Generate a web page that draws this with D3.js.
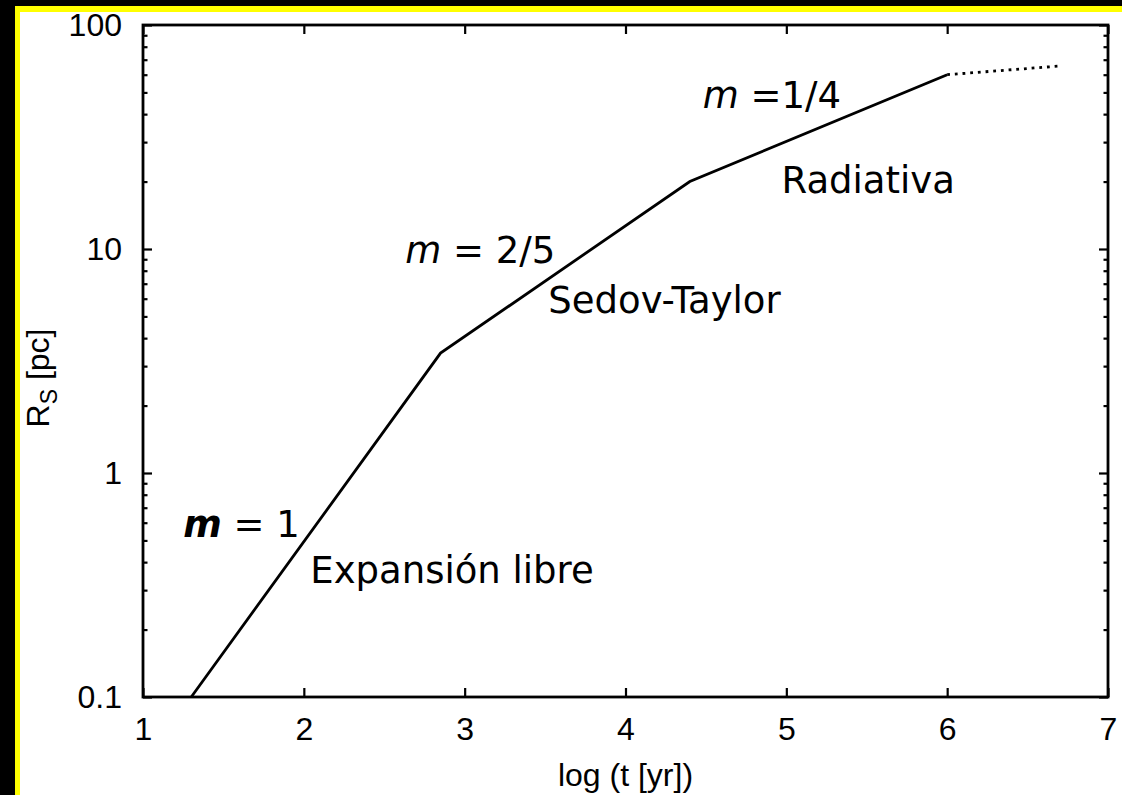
<!DOCTYPE html>
<html>
<head>
<meta charset="utf-8">
<script src="https://cdn.jsdelivr.net/npm/d3@7"></script>
<style>
  html, body { margin: 0; padding: 0; background: #000; }
  svg { display: block; }
  .tick text { font-family: "Liberation Sans", Arial, sans-serif; font-size: 32px; fill: #000; }
</style>
</head>
<body>
<svg></svg>
<script>
const WIDTH = 1122;
const HEIGHT = 795;

// solid curve: log(t) vs R_S
const logT = [1.3, 2.85, 4.4, 6.0];
const radius = [0.1, 3.43, 20, 60];
// dotted continuation
const logTDotted = [6.0, 6.7];
const radiusDotted = [60, 65.6];

const xTicks = [1, 2, 3, 4, 5, 6, 7];
const yTicks = [0.1, 1, 10, 100];
const yTickLabels = ['0.1', '1', '10', '100'];

// annotations (anchor in data coords)
const noteText = ['Expansión libre', 'Sedov-Taylor', 'Radiativa'];
const noteT = [2.04, 3.52, 4.97];
const noteR = [0.323, 5.18, 17.8];
const slopeText = ['1', '2/5', '1/4'];
const slopeEq = [' = ', ' = ', ' ='];
const slopeT = [1.25, 2.63, 4.48];
const slopeR = [0.52, 8.66, 42.6];

const margin = {left: 143, right: 1108, top: 25, bottom: 697};

let svg = d3.select('svg')
    .attr('width', WIDTH)
    .attr('height', HEIGHT);

// frame: black, yellow edge, white page
svg.append('rect').attr('width', WIDTH).attr('height', HEIGHT).attr('fill', '#000');
svg.append('rect').attr('x', 15).attr('y', 6).attr('width', WIDTH - 15).attr('height', HEIGHT - 6).attr('fill', '#ffff00');
svg.append('rect').attr('x', 20).attr('y', 12).attr('width', WIDTH - 20).attr('height', HEIGHT - 12).attr('fill', '#fff');

let x = d3.scaleLinear().domain([1, 7]).range([margin.left, margin.right]);
let y = d3.scaleLog().domain([0.1, 100]).range([margin.bottom, margin.top]);

// minor ticks for log axis
let minor = [];
for (const dec of [0.1, 1, 10]) {
    for (let k = 2; k <= 9; k++) minor.push(dec * k);
}

function cleanAxis(g){
    g.select('.domain').remove();
    g.selectAll('.tick line').attr('stroke', '#000').attr('stroke-width', 2.2);
}

// bottom
svg.append('g')
    .attr('transform', `translate(0,${margin.bottom})`)
    .call(d3.axisBottom(x).tickValues(xTicks).tickFormat(d3.format('d')).tickSize(-9).tickPadding(20))
    .call(cleanAxis)
    .selectAll('text').attr('dy', '0.71em');
// top
svg.append('g')
    .attr('transform', `translate(0,${margin.top})`)
    .call(d3.axisTop(x).tickValues(xTicks).tickFormat('').tickSize(-9))
    .call(cleanAxis);
// left
svg.append('g')
    .attr('transform', `translate(${margin.left},0)`)
    .call(d3.axisLeft(y).tickValues(yTicks).tickFormat((d, i) => yTickLabels[i]).tickSize(-9).tickPadding(21))
    .call(cleanAxis);
svg.append('g')
    .attr('transform', `translate(${margin.left},0)`)
    .call(d3.axisLeft(y).tickValues(minor).tickFormat('').tickSize(-4.5))
    .call(cleanAxis);
// right
svg.append('g')
    .attr('transform', `translate(${margin.right},0)`)
    .call(d3.axisRight(y).tickValues(yTicks).tickFormat('').tickSize(-9))
    .call(cleanAxis);
svg.append('g')
    .attr('transform', `translate(${margin.right},0)`)
    .call(d3.axisRight(y).tickValues(minor).tickFormat('').tickSize(-4.5))
    .call(cleanAxis);

// plot border
svg.append('rect')
    .attr('x', margin.left).attr('y', margin.top)
    .attr('width', margin.right - margin.left)
    .attr('height', margin.bottom - margin.top)
    .attr('fill', 'none')
    .attr('stroke', '#000')
    .attr('stroke-width', 2.8);

let line = d3.line()
    .x(d => x(d[0]))
    .y(d => y(d[1]));

svg.append('path')
    .datum(d3.zip(logT, radius))
    .attr('d', line)
    .attr('fill', 'none')
    .attr('stroke', '#000')
    .attr('stroke-width', 2.8);

svg.append('path')
    .datum(d3.zip(logTDotted, radiusDotted))
    .attr('d', line)
    .attr('fill', 'none')
    .attr('stroke', '#000')
    .attr('stroke-width', 2.8)
    .attr('stroke-dasharray', '2.8,4.9');

// axis titles
svg.append('text')
    .attr('x', (margin.left + margin.right) / 2)
    .attr('y', 786)
    .attr('text-anchor', 'middle')
    .style('font-family', '"Liberation Sans", Arial, sans-serif')
    .style('font-size', '32px')
    .text('log (t [yr])');

let yTitle = svg.append('text')
    .attr('transform', 'translate(49,378) rotate(-90)')
    .attr('text-anchor', 'middle')
    .style('font-family', '"Liberation Sans", Arial, sans-serif')
    .style('font-size', '32px');
yTitle.append('tspan').text('R');
yTitle.append('tspan').attr('dy', 8).style('font-size', '23px').text('S');
yTitle.append('tspan').attr('dy', -8).text(' [pc]');

// phase names
svg.append('g').selectAll('text')
    .data(noteText)
    .join('text')
    .attr('x', (d, i) => x(noteT[i]))
    .attr('y', (d, i) => y(noteR[i]))
    .style('font-family', '"DejaVu Sans", sans-serif')
    .style('font-size', '37px')
    .text(d => d);

// slopes
let slopes = svg.append('g').selectAll('text')
    .data(slopeText)
    .join('text')
    .attr('x', (d, i) => x(slopeT[i]))
    .attr('y', (d, i) => y(slopeR[i]))
    .style('font-family', '"DejaVu Sans", sans-serif')
    .style('font-size', '37px');
slopes.append('tspan')
    .style('font-style', 'italic')
    .style('font-weight', (d, i) => i === 0 ? 'bold' : 'normal')
    .text('m');
slopes.append('tspan')
    .attr('xml:space', 'preserve')
    .style('white-space', 'pre')
    .text((d, i) => slopeEq[i] + d);
</script>
</body>
</html>
